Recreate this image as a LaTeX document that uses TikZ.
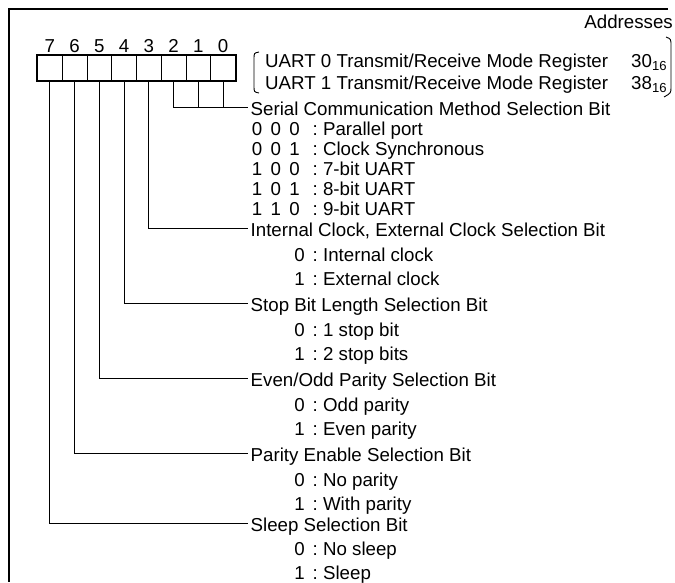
\documentclass[tikz,border=0pt]{standalone}
\usepackage{fontspec}
\setmainfont{Liberation Sans}
\usetikzlibrary{positioning}
\begin{document}
\begin{tikzpicture}[x=1pt,y=-1pt,
  every node/.style={font=\fontsize{18.7}{22}\selectfont},
  cell/.style={draw,line width=1pt,minimum width=24.75pt,minimum height=25pt,
    inner sep=0pt,anchor=north west},
  bitno/.style={inner sep=1pt},
  hdr/.style={anchor=west,inner sep=2.5pt,text height=13.4pt,text depth=0pt},
  val/.style={anchor=base east,inner sep=0pt},
  desc/.style={anchor=base west,inner sep=0pt},
  regtext/.style={anchor=base west,inner sep=0pt},
  wire/.style={line width=0.9pt}]
  \useasboundingbox (0,0) rectangle (675,582);
  \draw[line width=2.5pt] (668,9) -- (9,9) -- (9,582);
  \node[anchor=base east,inner sep=0pt] (addr) at (673,28) {Addresses};

  \node[cell] (b7) at (37,55) {};
  \node[cell] (b6) at (61.75,55) {};
  \node[cell] (b5) at (86.5,55) {};
  \node[cell] (b4) at (111.25,55) {};
  \node[cell] (b3) at (136,55) {};
  \node[cell] (b2) at (160.75,55) {};
  \node[cell] (b1) at (185.5,55) {};
  \node[cell] (b0) at (210.25,55) {};
  \draw[line width=2pt] (b7.north west) rectangle (b0.south east);
  \node[bitno,above=1pt of b7] (n7) {7};
  \node[bitno,above=1pt of b6] (n6) {6};
  \node[bitno,above=1pt of b5] (n5) {5};
  \node[bitno,above=1pt of b4] (n4) {4};
  \node[bitno,above=1pt of b3] (n3) {3};
  \node[bitno,above=1pt of b2] (n2) {2};
  \node[bitno,above=1pt of b1] (n1) {1};
  \node[bitno,above=1pt of b0] (n0) {0};

  \node[regtext] (uart0) at (265,67.7) {UART 0 Transmit/Receive Mode Register};
  \node[regtext] (uart1) at (265,89.7) {UART 1 Transmit/Receive Mode Register};
  \node[regtext] (adr0) at (631,67.7) {30\textsubscript{16}};
  \node[regtext] (adr1) at (631,89.7) {38\textsubscript{16}};
  \draw[line width=0.9pt] (259,52) .. controls (254,53) .. (254,59) -- (254,86)
              .. controls (254,92) .. (259,93);
  \draw[line width=0.9pt] (666,37) .. controls (671,39) .. (671,46) -- (671,87)
              .. controls (671,93) .. (664,97);

  \node[hdr] (h0) at (248,109) {Serial Communication Method Selection Bit};
  \node[val] (c1) at (300,135.7) {0\hspace{.45em}0\hspace{.45em}0};
  \node[desc] (t1) at (312.5,135.7) {:\ Parallel port};
  \node[val] (c2) at (300,155.7) {0\hspace{.45em}0\hspace{.45em}1};
  \node[desc] (t2) at (312.5,155.7) {:\ Clock Synchronous};
  \node[val] (c3) at (300,175.7) {1\hspace{.45em}0\hspace{.45em}0};
  \node[desc] (t3) at (312.5,175.7) {:\ 7-bit UART};
  \node[val] (c4) at (300,195.7) {1\hspace{.45em}0\hspace{.45em}1};
  \node[desc] (t4) at (312.5,195.7) {:\ 8-bit UART};
  \node[val] (c5) at (300,215.7) {1\hspace{.45em}1\hspace{.45em}0};
  \node[desc] (t5) at (312.5,215.7) {:\ 9-bit UART};

  \node[hdr] (h3) at (248,230) {Internal Clock, External Clock Selection Bit};
  \node[val] (v30) at (305,261.7) {0};
  \node[desc] (t30) at (312.5,261.7) {:\ Internal clock};
  \node[val] (v31) at (305,285.7) {1};
  \node[desc] (t31) at (312.5,285.7) {:\ External clock};

  \node[hdr] (h4) at (248,305) {Stop Bit Length Selection Bit};
  \node[val] (v40) at (305,336.7) {0};
  \node[desc] (t40) at (312.5,336.7) {:\ 1 stop bit};
  \node[val] (v41) at (305,360.7) {1};
  \node[desc] (t41) at (312.5,360.7) {:\ 2 stop bits};

  \node[hdr] (h5) at (248,380) {Even/Odd Parity Selection Bit};
  \node[val] (v50) at (305,411.7) {0};
  \node[desc] (t50) at (312.5,411.7) {:\ Odd parity};
  \node[val] (v51) at (305,435.7) {1};
  \node[desc] (t51) at (312.5,435.7) {:\ Even parity};

  \node[hdr] (h6) at (248,455) {Parity Enable Selection Bit};
  \node[val] (v60) at (305,486.7) {0};
  \node[desc] (t60) at (312.5,486.7) {:\ No parity};
  \node[val] (v61) at (305,510.7) {1};
  \node[desc] (t61) at (312.5,510.7) {:\ With parity};

  \node[hdr] (h7) at (248,525) {Sleep Selection Bit};
  \node[val] (v70) at (305,555.7) {0};
  \node[desc] (t70) at (312.5,555.7) {:\ No sleep};
  \node[val] (v71) at (305,579.2) {1};
  \node[desc] (t71) at (312.5,579.2) {:\ Sleep};

  \coordinate (j0) at ([yshift=2pt]h0.west);
  \coordinate (j3) at ([yshift=2pt]h3.west);
  \coordinate (j4) at ([yshift=2pt]h4.west);
  \coordinate (j5) at ([yshift=2pt]h5.west);
  \coordinate (j6) at ([yshift=2pt]h6.west);
  \coordinate (j7) at ([yshift=2pt]h7.west);
  \draw[wire] (b2.south) |- (j0);
  \draw[wire] (b1.south) -- (b1.south |- j0);
  \draw[wire] (b0.south) -- (b0.south |- j0);
  \draw[wire] (b3.south) |- (j3);
  \draw[wire] (b4.south) |- (j4);
  \draw[wire] (b5.south) |- (j5);
  \draw[wire] (b6.south) |- (j6);
  \draw[wire] (b7.south) |- (j7);
\end{tikzpicture}
\end{document}
